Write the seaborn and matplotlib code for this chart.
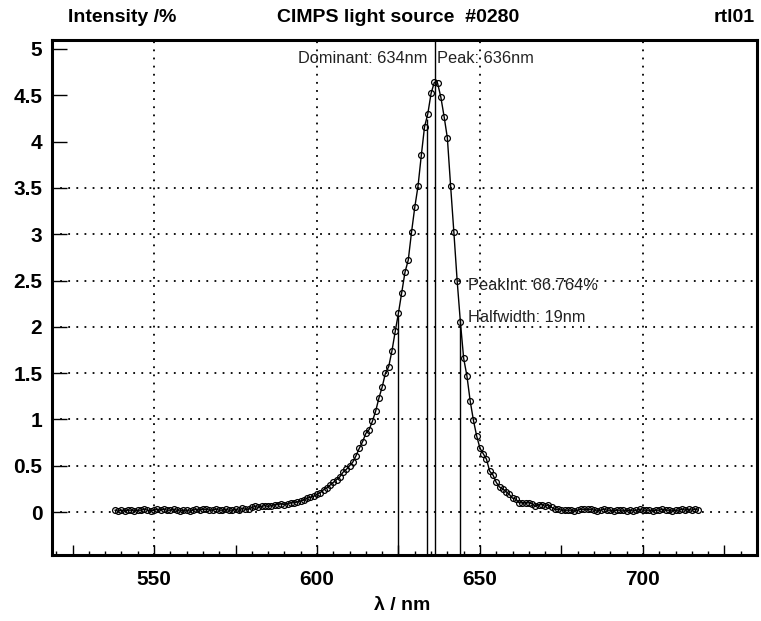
import numpy as np
import pandas as pd
import matplotlib
matplotlib.use("Agg")
import matplotlib.pyplot as plt
from matplotlib.ticker import MultipleLocator
import seaborn as sns

# ---------------- data ----------------
wavelengths = list(range(538, 718))
intensity = [
    0.02, 0.01,
    0.02, 0.01, 0.02, 0.02, 0.01, 0.02, 0.02, 0.03, 0.02, 0.01,
    0.02, 0.03, 0.02, 0.03, 0.02, 0.02, 0.03, 0.02, 0.01, 0.02,
    0.02, 0.01, 0.02, 0.03, 0.02, 0.03, 0.03, 0.02, 0.02, 0.03,
    0.02, 0.02, 0.03, 0.02, 0.02, 0.03, 0.02, 0.04, 0.03, 0.03,
    0.05, 0.06, 0.05, 0.06, 0.07, 0.06, 0.07, 0.08, 0.08, 0.09,
    0.08, 0.09, 0.10, 0.10, 0.11, 0.12, 0.13, 0.15, 0.16, 0.17,
    0.19, 0.21, 0.24, 0.26, 0.29, 0.32, 0.35, 0.38, 0.43, 0.46,
    0.50, 0.54, 0.61, 0.69, 0.76, 0.85, 0.89, 0.98, 1.09, 1.23,
    1.35, 1.50, 1.57, 1.74, 1.95, 2.15, 2.37, 2.59, 2.72, 3.02,
    3.29, 3.52, 3.85, 4.16, 4.30, 4.52, 4.64, 4.63, 4.48, 4.27,
    4.04, 3.52, 3.02, 2.50, 2.05, 1.66, 1.47, 1.20, 0.99, 0.82,
    0.69, 0.63, 0.57, 0.44, 0.40, 0.32, 0.27, 0.25, 0.22, 0.19,
    0.15, 0.14, 0.10, 0.10, 0.10, 0.10, 0.09, 0.06, 0.08, 0.08,
    0.06, 0.08, 0.05, 0.03, 0.03, 0.02, 0.02, 0.02, 0.02, 0.01,
    0.02, 0.03, 0.03, 0.03, 0.03, 0.02, 0.01, 0.02, 0.03, 0.02,
    0.02, 0.01, 0.02, 0.02, 0.02, 0.01, 0.02, 0.01, 0.02, 0.03,
    0.02, 0.02, 0.02, 0.01, 0.02, 0.02, 0.03, 0.02, 0.02, 0.01,
    0.02, 0.02, 0.03, 0.02, 0.03, 0.02, 0.03, 0.02,
]

dominant_nm = 633.6
peak_nm = 636.3
halfwidth_nm = [624.9, 643.9]

x_major = [525, 550, 575, 600, 625, 650, 675, 700, 725]
x_labels = ["", "550", "", "600", "", "650", "", "700", ""]
y_ticks = [0, 0.5, 1, 1.5, 2, 2.5, 3, 3.5, 4, 4.5, 5]
y_labels = ["0", "0.5", "1", "1.5", "2", "2.5", "3", "3.5", "4", "4.5", "5"]
y_grid = [0, 0.5, 1, 1.5, 2, 2.5, 3, 3.5]
x_grid = [550, 600, 650, 700]

title_left = "Intensity /%"
title_center = "CIMPS light source  #0280"
title_right = "rtl01"
xlabel = "λ / nm"
txt_dominant = "Dominant: 634nm"
txt_peak = "Peak: 636nm"
txt_peakint = "PeakInt: 66.764%"
txt_halfwidth = "Halfwidth: 19nm"

# ---------------- style ----------------
sns.set_style("ticks")
plt.rcParams["font.family"] = ["Liberation Sans", "DejaVu Sans"]
plt.rcParams["text.color"] = "black"
plt.rcParams["xtick.color"] = "black"
plt.rcParams["ytick.color"] = "black"
plt.rcParams["axes.labelcolor"] = "black"

W, H = 761, 621
fig = plt.figure(figsize=(W / 100, H / 100), dpi=100)
L, R, T, B = 52, 757, 40, 555
ax = fig.add_axes([L / W, 1 - B / H, (R - L) / W, (B - T) / H])

xmin, xmax = 518.7, 735.0
ymin, ymax = -0.464, 5.097
ax.set_xlim(xmin, xmax)
ax.set_ylim(ymin, ymax)

df = pd.DataFrame({"wl": wavelengths, "I": intensity})

# grid (dotted)
dot = (0, (1, 3.5))
for gx in x_grid:
    ax.axvline(gx, color="black", ls=dot, lw=1.3, zorder=0)
ax.hlines(y_grid, xmin, xmax, colors="black", linestyles=[dot], lw=1.3, zorder=0)

# marker lines
ax.vlines(peak_nm, ymin, ymax, colors="black", lw=1.0, zorder=1)
ax.vlines(dominant_nm, ymin, np.interp(dominant_nm, wavelengths, intensity),
          colors="black", lw=1.0, zorder=1)
for hw in halfwidth_nm:
    ax.vlines(hw, ymin, np.interp(hw, wavelengths, intensity),
              colors="black", lw=1.0, zorder=1)

sns.lineplot(data=df, x="wl", y="I", ax=ax, color="black", lw=1.0,
             marker="o", markersize=4.2, markerfacecolor="none",
             markeredgecolor="black", markeredgewidth=0.9, zorder=3)

# ticks
ax.set_xticks(x_major)
ax.set_xticklabels(x_labels)
ax.xaxis.set_minor_locator(MultipleLocator(5))
ax.set_yticks(y_ticks)
ax.set_yticklabels(y_labels)
ax.tick_params(axis="x", which="major", direction="in", length=7.5, width=1,
               pad=11, labelsize=15, top=False, colors="black")
ax.tick_params(axis="x", which="minor", direction="in", length=3, width=1,
               top=False, colors="black")
ax.tick_params(axis="y", which="major", direction="in", length=11, width=1,
               pad=7, labelsize=15, right=False, colors="black")
for lab in ax.get_xticklabels() + ax.get_yticklabels():
    lab.set_fontweight("bold")

ax.set_xlabel("")
ax.set_ylabel("")
for s in ax.spines.values():
    s.set_visible(True)
    s.set_linewidth(2.2)
    s.set_color("black")

# annotations
fs = 11.8
ax.text(634.0, 4.90, txt_dominant, ha="right", va="center", fontsize=fs, color="#222222")
ax.text(636.8, 4.90, txt_peak, ha="left", va="center", fontsize=fs, color="#222222")
ax.text(646.3, 2.45, txt_peakint, ha="left", va="center", fontsize=fs, color="#222222")
ax.text(646.3, 2.10, txt_halfwidth, ha="left", va="center", fontsize=fs, color="#222222")

# titles
fig.text(68 / W, 1 - 18 / H, title_left, ha="left", va="center",
         fontsize=14, fontweight="bold", color="black")
fig.text(398 / W, 1 - 18 / H, title_center, ha="center", va="center",
         fontsize=14, fontweight="bold", color="black")
fig.text(755 / W, 1 - 18 / H, title_right, ha="right", va="center",
         fontsize=14, fontweight="bold", color="black")
fig.text(402 / W, 1 - 605 / H, xlabel, ha="center", va="center",
         fontsize=14, fontweight="bold", color="black")

fig.savefig("out.png", dpi=100)
